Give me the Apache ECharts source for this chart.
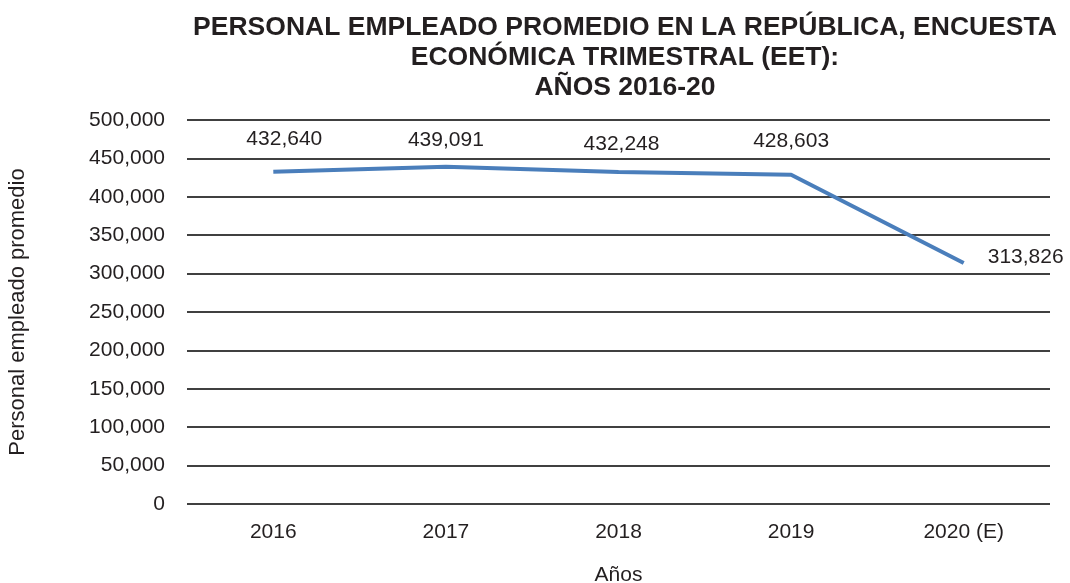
<!DOCTYPE html>
<html>
<head>
<meta charset="utf-8">
<script src="https://cdn.jsdelivr.net/npm/echarts@6/dist/echarts.min.js"></script>
<style>
  html, body { margin: 0; padding: 0; background: #fff; }
  #chart { width: 1070px; height: 583px; }
</style>
</head>
<body>
<div id="chart"></div>
<script>
// datos del gráfico
var years = ['2016', '2017', '2018', '2019', '2020 (E)'];
var personal = [432640, 439091, 432248, 428603, 313826];

var myChart = echarts.init(document.getElementById('chart'));

var font = '"Liberation Sans", Arial, sans-serif';
// separación de cada etiqueta respecto a su punto (como en la hoja de Excel)
var labelGap = [22, 16, 17, 23];
var labelShift = [11, 0, 3, 0];

option = {
    textStyle: { fontFamily: font },
    title: {
        text: 'PERSONAL EMPLEADO PROMEDIO EN LA REPÚBLICA, ENCUESTA\nECONÓMICA TRIMESTRAL (EET):\nAÑOS 2016-20',
        left: 620,
        top: 8,
        textAlign: 'center',
        textStyle: {
            fontFamily: font,
            fontSize: 26.5,
            fontWeight: 'bold',
            color: '#231f20',
            lineHeight: 30
        }
    },
    grid: { left: 187, right: 20, top: 120, bottom: 79, outerBoundsMode: 'none', containLabel: false },
    xAxis: {
        type: 'category',
        data: years,
        name: 'Años',
        nameLocation: 'middle',
        nameGap: 61,
        nameTextStyle: { fontSize: 21, color: '#231f20' },
        axisLine: { show: false },
        axisTick: { show: false },
        axisLabel: { fontSize: 21, color: '#231f20', margin: 18 }
    },
    yAxis: {
        type: 'value',
        min: 0,
        max: 500000,
        interval: 50000,
        name: 'Personal empleado promedio',
        nameLocation: 'middle',
        nameGap: 158,
        nameTextStyle: { fontSize: 22, color: '#231f20' },
        axisLine: { show: false },
        axisTick: { show: false },
        axisLabel: {
            fontSize: 21,
            color: '#231f20',
            margin: 22,
            formatter: function (v) { return v.toLocaleString('en-US'); }
        },
        splitLine: { lineStyle: { color: '#000', width: 1.5 } }
    },
    series: [{
        type: 'line',
        data: personal.map(function (v, i) {
            var item = { value: v };
            if (i === personal.length - 1) {
                item.label = { position: 'right', distance: 24, offset: [0, -6] };
            } else {
                item.label = { distance: labelGap[i], offset: [labelShift[i], 0] };
            }
            return item;
        }),
        symbol: 'circle',
        symbolSize: 0,
        showSymbol: true,
        lineStyle: { color: '#4a7ebb', width: 4 },
        itemStyle: { color: '#4a7ebb' },
        label: {
            show: true,
            position: 'top',
            fontSize: 21,
            color: '#231f20',
            formatter: function (p) { return p.value.toLocaleString('en-US'); }
        }
    }]
};

myChart.setOption(option);
</script>
</body>
</html>
